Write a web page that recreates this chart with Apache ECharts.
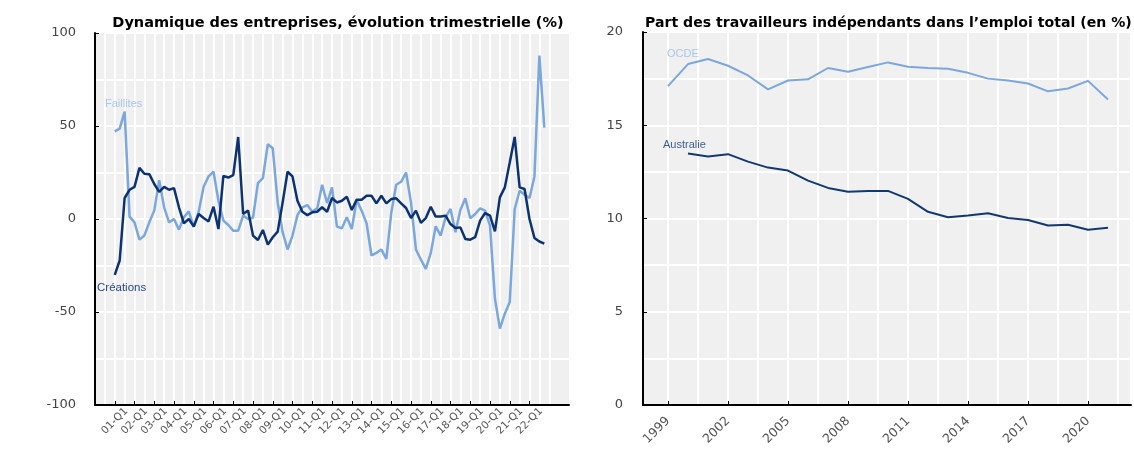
<!DOCTYPE html>
<html>
<head>
<meta charset="utf-8">
<script src="https://cdn.jsdelivr.net/npm/echarts@6/dist/echarts.min.js"></script>
<style>
  html, body { margin: 0; padding: 0; background: #fff; }
  #chart { width: 1134px; height: 455px; }
</style>
</head>
<body>
<div id="chart"></div>
<script>
// trimestres 2001-T1 .. 2022-T4 (évolution trimestrielle, %)
var creations = [-30, -22.3, 11.3, 15.7, 17.3, 27.5, 24.3, 24.1, 18.8, 14.6, 17.3, 15.7, 16.6, 6.3, -2.3, 0,
  -4.1, 2.7, 0.5, -1.3, 6.6, -5.4, 23.2, 22.3, 23.6, 44.1, 2.7, 4.6, -8.9, -11.3, -5.9, -13.8,
  -9.8, -6.8, 8.9, 25.4, 22.9, 9.8, 3.9, 2.1, 3.6, 3.9, 6.3, 3.9, 11.3, 8.9, 9.8, 12,
  4.8, 10.4, 10.4, 12.5, 12.5, 8.4, 12.5, 8.4, 10.7, 11.1, 8.4, 5.9, 0.5, 4.5, -2.1, 0.5,
  6.6, 1.3, 1.3, 1.8, -2.7, -4.8, -4.5, -10.7, -11.1, -9.8, -0.9, 3.2, 1.8, -6.6, 11.6, 17,
  30.4, 44.1, 17, 16.1, 0, -10.2, -12.1, -13.2];
var faillites = [47.1, 48.6, 57.7, 1.3, -1.8, -11.1, -8.9, -1.8, 4.5, 20.9, 6.3, -1.8, 0, -5.7, 0.9, 4.1,
  -4.1, 3.9, 17.3, 22.9, 25.4, 9.8, -0.9, -3.2, -6.3, -6.3, 1.8, 0, 0.7, 19.3, 22, 40.2,
  38, 8.9, -7.1, -16.4, -8.9, 2.1, 6.3, 7.5, 3.9, 5.7, 18.4, 8.6, 17, -4.1, -5, 0.9,
  -5.4, 10.2, 4.5, -2.3, -19.6, -18.2, -16.4, -21.4, 3.2, 18.4, 20, 25, 8.9, -16.4, -21.8, -26.8,
  -18.4, -3.9, -8.9, 0.9, 5.4, -7.1, 4.8, 11.1, 0.4, 2.7, 5.7, 4.5, -3.6, -42.9, -58.9, -50.9,
  -44.6, 5.4, 15.2, 13, 11.25, 22.9, 87.9, 49.1];

// part des indépendants (%)
var annees = [1999, 2000, 2001, 2002, 2003, 2004, 2005, 2006, 2007, 2008, 2009, 2010,
  2011, 2012, 2013, 2014, 2015, 2016, 2017, 2018, 2019, 2020, 2021];
var ocde = [17.1, 18.28, 18.55, 18.19, 17.67, 16.92, 17.4, 17.46, 18.07, 17.87, 18.12, 18.37,
  18.14, 18.07, 18.03, 17.81, 17.5, 17.4, 17.24, 16.82, 16.97, 17.38, 16.38];
var australie = [null, 13.48, 13.32, 13.45, 13.05, 12.73, 12.57, 12.03, 11.64, 11.43, 11.48, 11.48,
  11.05, 10.36, 10.07, 10.16, 10.28, 10.03, 9.92, 9.62, 9.66, 9.4, 9.51];
var anneesLabels = [1999, 2002, 2005, 2008, 2011, 2014, 2017, 2020];

// axe trimestriel 2000-T1 .. 2024-T1
var trimestres = [];
for (var y = 2000; y <= 2024; y++) {
  for (var q = 1; q <= 4; q++) {
    if (y == 2024 && q > 1) break;
    trimestres.push(String(y).slice(2) + '-Q' + q);
  }
}
var vide = [null, null, null, null]; // 2000
var creaData = vide.concat(creations);
var failData = vide.concat(faillites);

var ocdeData = [], ausData = [];
for (var i = 0; i < annees.length; i++) {
  ocdeData.push([annees[i], ocde[i]]);
  if (australie[i] != null) ausData.push([annees[i], australie[i]]);
}

var fond = '#f0f0f0';
var fonte = 'DejaVu Sans';
var bleuFonce = '#0d3272';
var bleuClair = '#7ba7dc';
var estLabel = function (idx) { return idx % 4 === 0 && idx > 0 && idx <= 88; };

var myChart = echarts.init(document.getElementById('chart'));
myChart.setOption({
  animation: false,
  title: [{
    text: 'Dynamique des entreprises, évolution trimestrielle (%)',
    left: 333, top: 11, textAlign: 'center',
    textStyle: { fontFamily: fonte, fontSize: 14.5, fontWeight: 'bold', color: '#000' }
  }, {
    text: 'Part des travailleurs indépendants dans l\u2019emploi total (en %)',
    left: 640, top: 11,
    textStyle: { fontFamily: fonte, fontSize: 14.1, fontWeight: 'bold', color: '#000' }
  }],
  grid: [
    { left: 95, top: 33, width: 474, height: 372, show: true, backgroundColor: fond, borderWidth: 0 },
    { left: 643, top: 32, width: 488, height: 373, show: true, backgroundColor: fond, borderWidth: 0 },
    // grille verticale tous les 1,5 ans (part gauche hors cadre)
    { left: 638, top: 32, width: 493, height: 373, show: false }
  ],
  xAxis: [{
    gridIndex: 0,
    type: 'category',
    boundaryGap: false,
    data: trimestres,
    axisLine: { onZero: false, lineStyle: { color: '#000', width: 2 } },
    axisTick: { inside: true, length: 4, lineStyle: { color: '#000' }, interval: estLabel },
    axisLabel: {
      rotate: 45, fontSize: 10.5, color: '#555', fontFamily: fonte, margin: 16,
      align: 'center', verticalAlign: 'middle', interval: estLabel
    },
    splitLine: {
      show: true, lineStyle: { color: '#fff', width: 2 },
      interval: function (idx) { return idx % 2 === 0 && idx <= 92; }
    }
  }, {
    gridIndex: 1,
    type: 'value',
    min: 1997.75, max: 2022.15,
    axisLine: { onZero: false, lineStyle: { color: '#000', width: 2 } },
    axisTick: { show: true, inside: true, length: 4, lineStyle: { color: '#000' }, customValues: anneesLabels },
    axisLabel: {
      customValues: anneesLabels, rotate: 45, fontSize: 12.5, color: '#555',
      fontFamily: fonte, margin: 14, formatter: function (v) { return String(v); }
    },
    splitLine: { show: false }
  }, {
    gridIndex: 2,
    type: 'value',
    min: 1997.5, max: 2022.15, interval: 1.5,
    axisLine: { show: false },
    axisTick: { show: false },
    axisLabel: { show: false },
    splitLine: { show: true, lineStyle: { color: '#fff', width: 2 } }
  }],
  yAxis: [{
    gridIndex: 0,
    type: 'value',
    min: -100, max: 100, interval: 50,
    axisLine: { show: true, lineStyle: { color: '#000', width: 2 } },
    axisTick: { show: true, inside: true, length: 4, lineStyle: { color: '#000' } },
    axisLabel: { fontSize: 13, color: '#444', fontFamily: fonte, margin: 19 },
    splitLine: { show: true, lineStyle: { color: '#fff', width: 2 } },
    minorTick: { show: false, splitNumber: 2 },
    minorSplitLine: { show: true, lineStyle: { color: '#fff', width: 2 } }
  }, {
    gridIndex: 1,
    type: 'value',
    min: 0, max: 20, interval: 5,
    axisLine: { show: true, lineStyle: { color: '#000', width: 2 } },
    axisTick: { show: true, inside: true, length: 4, lineStyle: { color: '#000' } },
    axisLabel: { fontSize: 13, color: '#444', fontFamily: fonte, margin: 20 },
    splitLine: { show: true, lineStyle: { color: '#fff', width: 2 } },
    minorTick: { show: false, splitNumber: 2 },
    minorSplitLine: { show: true, lineStyle: { color: '#fff', width: 2 } }
  }, {
    gridIndex: 2,
    type: 'value', min: 0, max: 20,
    axisLine: { show: false }, axisTick: { show: false },
    axisLabel: { show: false }, splitLine: { show: false }
  }],
  graphic: [
    { type: 'text', left: 105, top: 98, z: 100, style: { text: 'Faillites', fill: '#a9c6ea', fontFamily: 'Liberation Sans', fontSize: 11 } },
    { type: 'text', left: 97, top: 282, z: 100, style: { text: 'Créations', fill: '#23498a', fontFamily: 'Liberation Sans', fontSize: 11.5 } },
    { type: 'text', left: 667, top: 48, z: 100, style: { text: 'OCDE', fill: '#a9c6ea', fontFamily: 'Liberation Sans', fontSize: 11 } },
    { type: 'text', left: 663, top: 139, z: 100, style: { text: 'Australie', fill: '#3c5f96', fontFamily: 'Liberation Sans', fontSize: 11 } }
  ],
  series: [{
    name: 'Faillites', type: 'line', xAxisIndex: 0, yAxisIndex: 0,
    data: failData, showSymbol: false, symbol: 'none',
    lineStyle: { color: bleuClair, width: 2.5 }, z: 3
  }, {
    name: 'Créations', type: 'line', xAxisIndex: 0, yAxisIndex: 0,
    data: creaData, showSymbol: false, symbol: 'none',
    lineStyle: { color: bleuFonce, width: 2.5 }, z: 4
  }, {
    name: 'OCDE', type: 'line', xAxisIndex: 1, yAxisIndex: 1,
    data: ocdeData, showSymbol: false, symbol: 'none',
    lineStyle: { color: bleuClair, width: 2 }
  }, {
    name: 'Australie', type: 'line', xAxisIndex: 1, yAxisIndex: 1,
    data: ausData, showSymbol: false, symbol: 'none',
    lineStyle: { color: '#12396f', width: 2 }
  }]
});
</script>
</body>
</html>
